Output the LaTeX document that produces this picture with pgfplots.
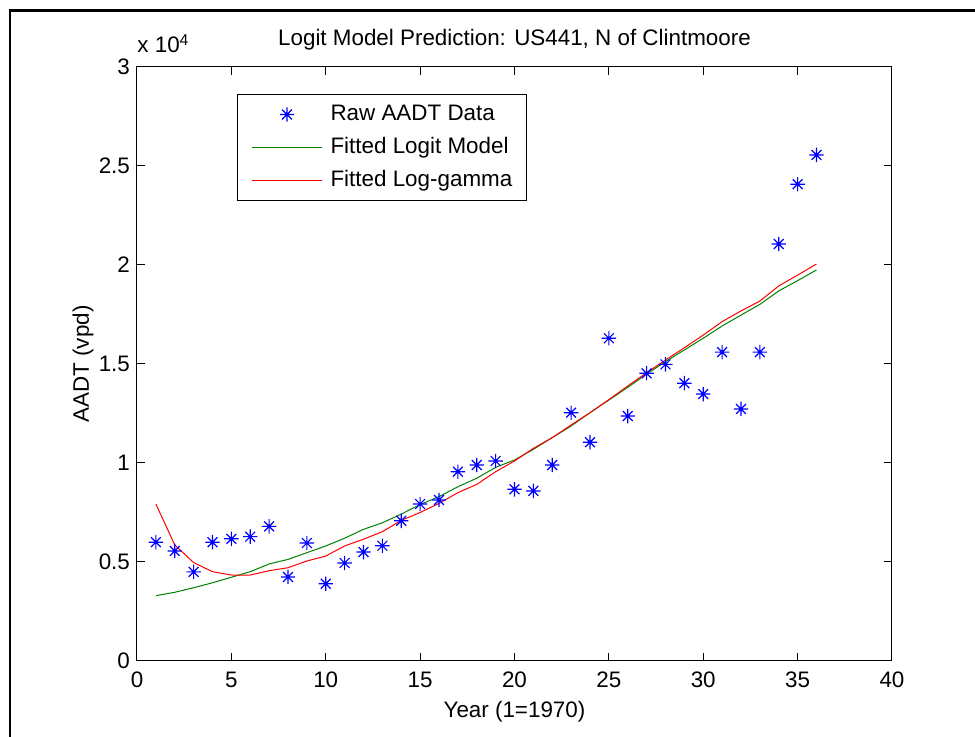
\documentclass[border=0pt]{standalone}
\usepackage{pgfplots}
\pgfplotsset{compat=1.18}
\usepackage{fontspec}
\setmainfont{Liberation Sans}

% MATLAB-style eight-armed asterisk
\pgfdeclareplotmark{mast}{%
  \pgfpathmoveto{\pgfqpoint{-\pgfplotmarksize}{0pt}}\pgfpathlineto{\pgfqpoint{\pgfplotmarksize}{0pt}}%
  \pgfpathmoveto{\pgfqpoint{0pt}{-\pgfplotmarksize}}\pgfpathlineto{\pgfqpoint{0pt}{\pgfplotmarksize}}%
  \pgfpathmoveto{\pgfqpoint{-0.68\pgfplotmarksize}{-0.68\pgfplotmarksize}}\pgfpathlineto{\pgfqpoint{0.68\pgfplotmarksize}{0.68\pgfplotmarksize}}%
  \pgfpathmoveto{\pgfqpoint{-0.68\pgfplotmarksize}{0.68\pgfplotmarksize}}\pgfpathlineto{\pgfqpoint{0.68\pgfplotmarksize}{-0.68\pgfplotmarksize}}%
  \pgfusepathqstroke}

\definecolor{mgreen}{RGB}{0,128,0}

\newcommand{\ff}{\fontsize{11.2}{13.4}\selectfont}

\begin{document}
\begin{tikzpicture}
\begin{axis}[
    scale only axis,
    width=377.5pt, height=297pt,
    clip=false,
    xmin=0, xmax=40,
    ymin=0, ymax=30000,
    xtick={0,5,...,40},
    ytick={0,5000,...,30000},
    yticklabels={0,0.5,1,1.5,2,2.5,3},
    scaled y ticks=false,
    xtick pos=both, ytick pos=both,
    tick align=inside,
    major tick length=4pt,
    axis line style={line width=0.5pt},
    every tick/.style={black, line width=0.5pt},
    /pgf/number format/assume math mode=true,
    tick label style={font=\ff},
    xticklabel style={yshift=-2pt},
    label style={font=\ff},
    every axis title shift=0pt,
    title style={font=\ff, at={(axis description cs:0.5,1.0354)}, anchor=base},
    title={Logit Model Prediction: US441, N of Clintmoore},
    xlabel={Year (1=1970)},
    xlabel style={at={(axis description cs:0.5,-0.0943)}, anchor=base},
    ylabel={AADT (vpd)},
    ylabel style={at={(axis description cs:-0.0636,0.5)}, anchor=base},
    legend image code/.code={\draw[mark repeat=2,mark phase=2,#1] plot coordinates {(0pt,0pt) (17.5pt,0pt) (35pt,0pt)};},
    legend cell align=left,
    legend style={font=\ff, at={(axis description cs:0.1325,0.9545)}, anchor=north west,
        draw=black, line width=0.5pt, inner xsep=7pt, inner ysep=4.5pt,
        row sep=5.5pt, column sep=4pt,
        nodes={inner sep=0pt, text height=8.5pt, text depth=2.5pt}},
]

\addplot[only marks, blue, mark=mast, mark size=3.6pt, line width=0.6pt] coordinates {
    (1,6000) (2,5560) (3,4500) (4,6000) (5,6170) (6,6280) (7,6800) (8,4240)
    (9,5960) (10,3900) (11,4950) (12,5500) (13,5820) (14,7080) (15,7930) (16,8130)
    (17,9560) (18,9900) (19,10100) (20,8670) (21,8590) (22,9900) (23,12540) (24,11050)
    (25,16300) (26,12370) (27,14530) (28,14980) (29,14030) (30,13480) (31,15600) (32,12730)
    (33,15600) (34,21060) (35,24080) (36,25560)
};

\addplot[mgreen, line width=0.5pt, mark=none] coordinates {
    (1,3300) (2,3470) (3,3700) (4,3950) (5,4230) (6,4510) (7,4900) (8,5130)
    (9,5470) (10,5810) (11,6200) (12,6650) (13,6980) (14,7420) (15,7900) (16,8300)
    (17,8800) (18,9230) (19,9780) (20,10150) (21,10690) (22,11280) (23,11870) (24,12540)
    (25,13180) (26,13820) (27,14490) (28,15120) (29,15710) (30,16300) (31,16920) (32,17470)
    (33,18010) (34,18690) (35,19210) (36,19750)
};

\addplot[red, line width=0.5pt, mark=none] coordinates {
    (1,7930) (2,5860) (3,4970) (4,4510) (5,4340) (6,4340) (7,4560) (8,4710)
    (9,5050) (10,5300) (11,5810) (12,6150) (13,6530) (14,7100) (15,7500) (16,7960)
    (17,8500) (18,8920) (19,9560) (20,10100) (21,10740) (22,11280) (23,11920) (24,12540)
    (25,13200) (26,13890) (27,14560) (28,15200) (29,15820) (30,16460) (31,17140) (32,17680)
    (33,18180) (34,18940) (35,19490) (36,20050)
};

\legend{Raw AADT Data, Fitted Logit Model, Fitted Log-gamma}

\node[font=\ff, anchor=base west, inner sep=0pt] at ([yshift=7pt]rel axis cs:0,1) {x 10\textsuperscript{4}};
\end{axis}
% figure frame (cropped at right and bottom)
\draw[line width=1.4pt, line cap=rect] (-63.5pt,-40pt) -- (-63.5pt,325.3pt) -- (425pt,325.3pt);
\pgfresetboundingbox
\path[use as bounding box] (-68.5pt,-38pt) rectangle (419pt,330.5pt);
\end{tikzpicture}
\end{document}
